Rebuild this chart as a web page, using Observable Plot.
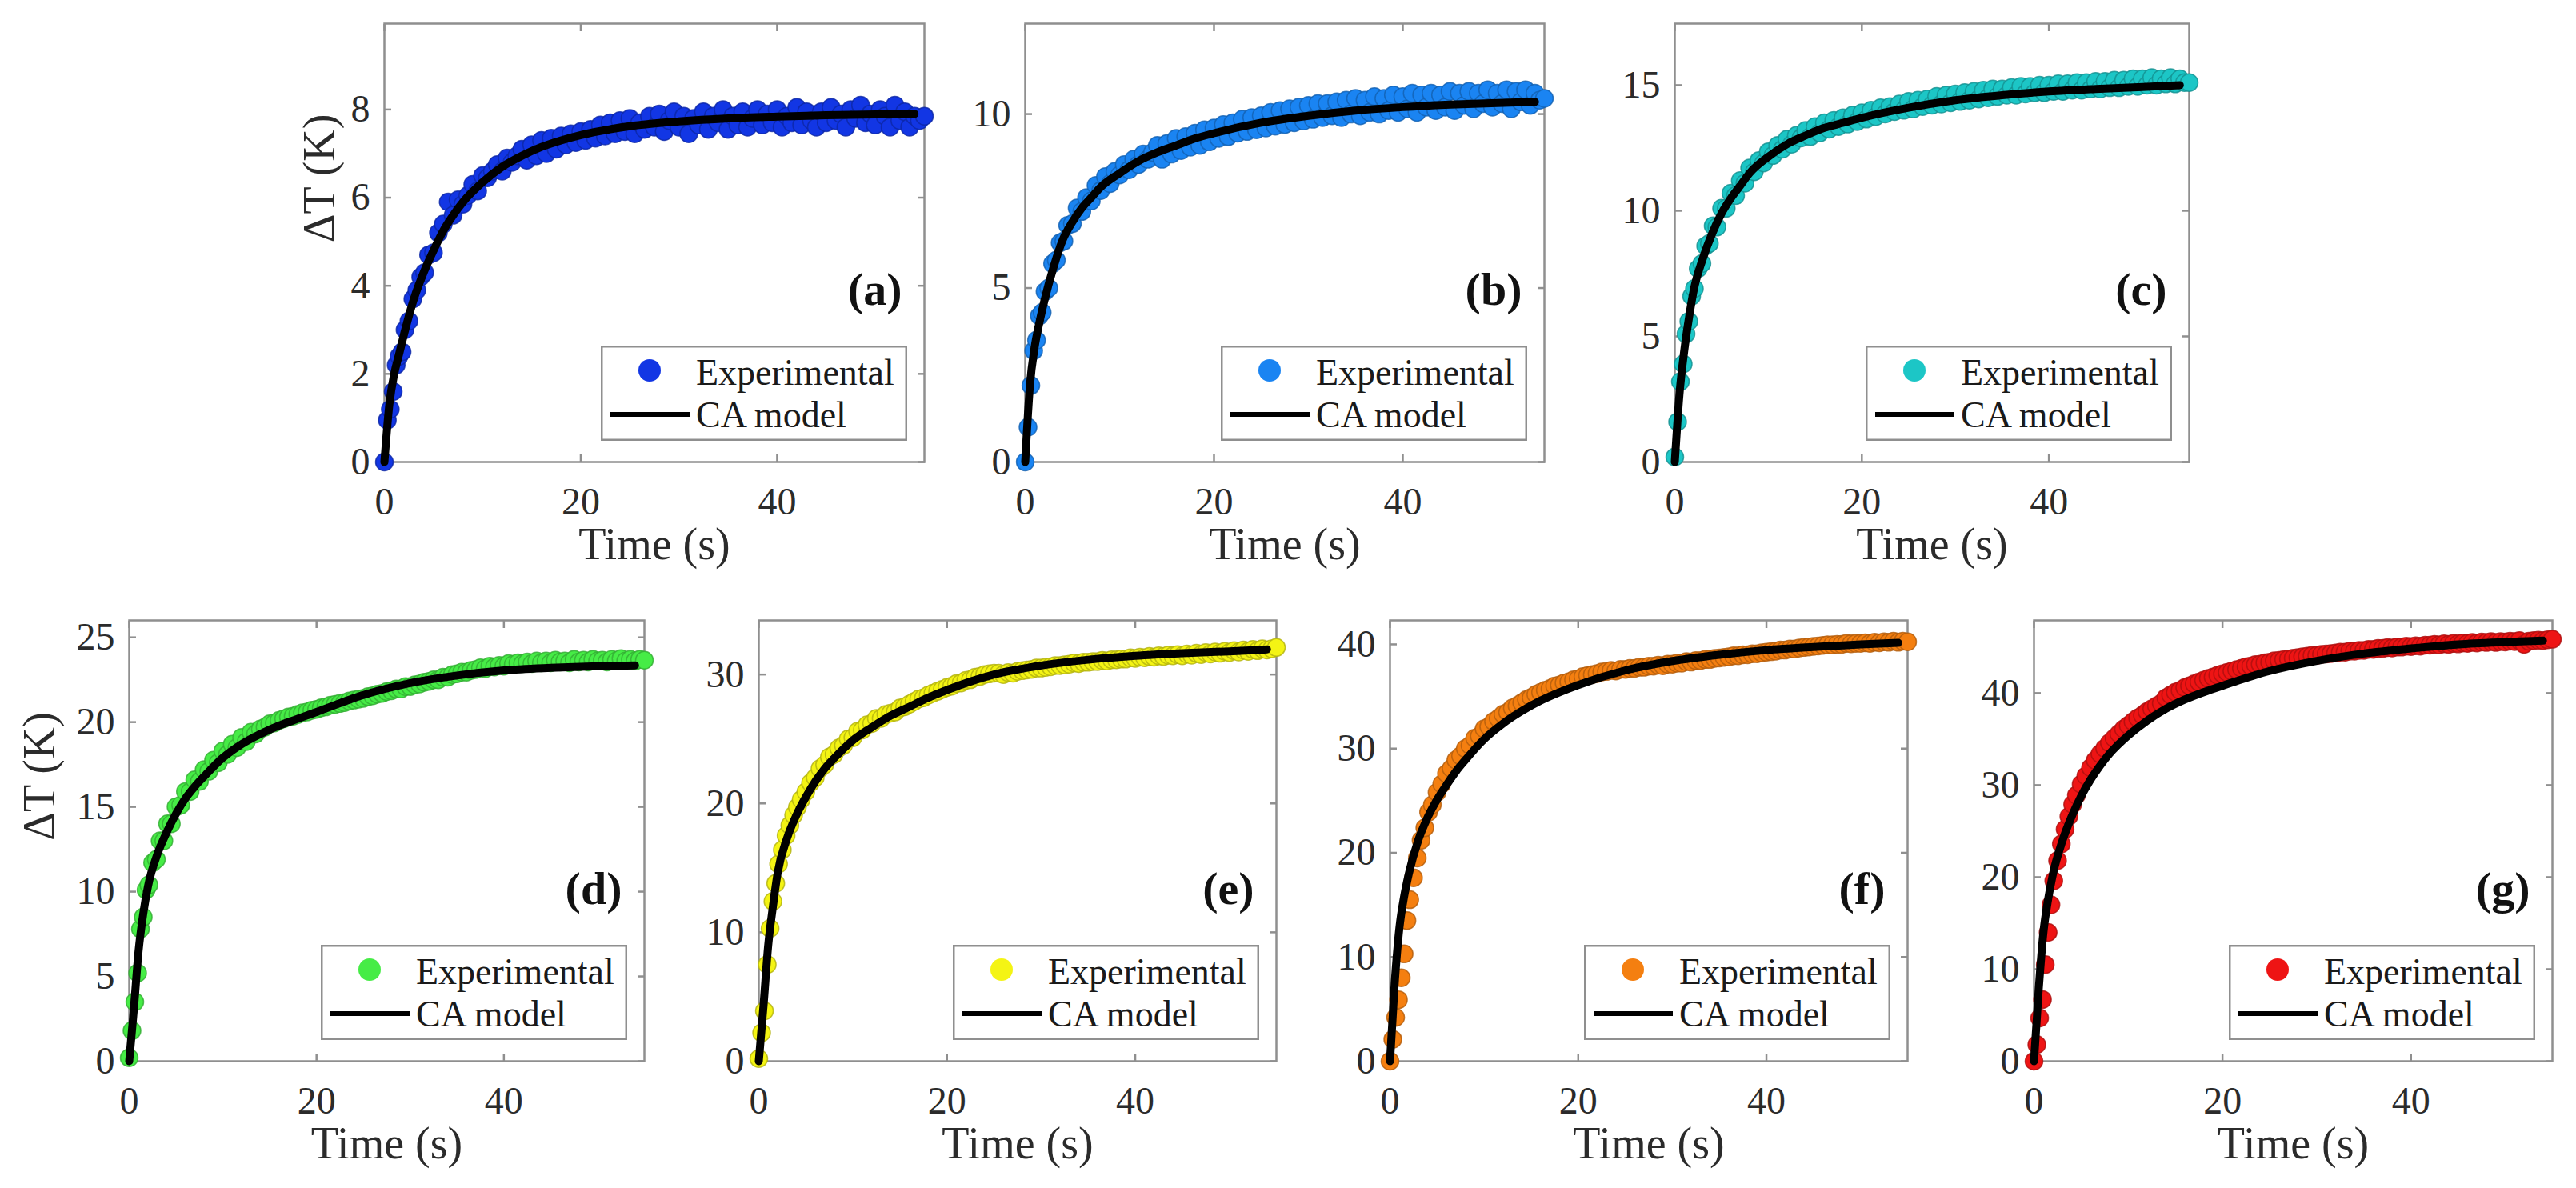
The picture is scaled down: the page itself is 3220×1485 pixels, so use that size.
<!DOCTYPE html>
<html>
<head>
<meta charset="utf-8">
<script src="https://cdn.jsdelivr.net/npm/d3@7"></script>
<script src="https://cdn.jsdelivr.net/npm/@observablehq/plot@0.6"></script>
<style>
  body { margin: 0; background: #fff; }
  #fig { position: relative; width: 3220px; height: 1485px; font-family: "Liberation Serif", "Times New Roman", serif; }
  #fig .panel, #fig .legend { position: absolute; }
</style>
</head>
<body>
<div id="fig"></div>
<script>
// sampling times of the experimental curves (s)
const time = [0, 0.3, 0.6, 0.9, 1.2, 1.5, 1.8, 2.1, 2.5, 2.9, 3.3, 3.7, 4.1, 4.5,
  5, 5.5, 6, 6.5, 7, 7.5, 8, 8.5, 9, 9.5, 10, 10.5, 11, 11.5, 12, 12.5, 13, 13.5,
  14, 14.5, 15, 15.5, 16, 16.5, 17, 17.5, 18, 18.5,
  19, 19.5, 20, 20.5, 21, 21.5, 22, 22.5, 23, 23.5,
  24, 24.5, 25, 25.5, 26, 26.5, 27, 27.5, 28, 28.5,
  29, 29.5, 30, 30.5, 31, 31.5, 32, 32.5, 33, 33.5,
  34, 34.5, 35, 35.5, 36, 36.5, 37, 37.5, 38, 38.5,
  39, 39.5, 40, 40.5, 41, 41.5, 42, 42.5, 43, 43.5,
  44, 44.5, 45, 45.5, 46, 46.5, 47, 47.5, 48, 48.5,
  49, 49.5, 50, 50.5, 51, 51.5, 52, 52.5, 53, 53.5,
  54, 54.5, 55];

// experimental ΔT (K), one value per time above
const expA = [0, 0.95, 1.2, 1.6, 2.2, 2.4, 2.5, 3.0, 3.2, 3.7, 3.9, 4.2, 4.3, 4.7,
  4.75, 5.2, 5.4, 5.9, 5.6, 5.95, 5.85, 6.05, 6.3, 6.15, 6.5, 6.45, 6.6, 6.75, 6.6, 6.9, 6.8, 6.95,
  7.1, 6.85, 7.2, 6.95, 7.3, 7.0, 7.35, 7.1, 7.4, 7.2,
  7.45, 7.25, 7.5, 7.3, 7.55, 7.35, 7.65, 7.4, 7.7, 7.45,
  7.75, 7.5, 7.8, 7.45, 7.7, 7.55, 7.85, 7.6, 7.9, 7.5,
  7.75, 7.95, 7.6, 7.85, 7.45, 7.8, 7.65, 7.95, 7.55, 7.85,
  7.7, 8.0, 7.55, 7.85, 7.65, 7.95, 7.6, 7.8, 8.0, 7.65,
  7.9, 7.7, 8.0, 7.6, 7.85, 7.7, 8.05, 7.65, 7.95, 7.75,
  7.6, 7.95, 7.7, 8.05, 7.75, 7.9, 7.6, 8.0, 7.8, 8.1,
  7.7, 7.9, 7.65, 8.0, 7.85, 7.6, 8.1, 7.75, 7.95, 7.6,
  7.85, 7.75, 7.85];
const expB = [0, 1.0, 2.2, 3.2, 3.5, 4.2, 4.3, 4.9, 5.0, 5.7, 5.8, 6.3, 6.35, 6.8,
  6.85, 7.3, 7.2, 7.6, 7.5, 7.95, 7.8, 8.2, 8.0, 8.35, 8.25, 8.55, 8.4, 8.7, 8.55, 8.85, 8.7, 8.9,
  9.1, 8.7, 9.15, 8.85, 9.3, 8.95, 9.35, 9.05, 9.45, 9.1,
  9.55, 9.2, 9.6, 9.3, 9.7, 9.35, 9.75, 9.45, 9.85, 9.5,
  9.9, 9.55, 9.95, 9.6, 10.05, 9.65, 10.1, 9.7, 10.15, 9.75,
  10.2, 9.8, 10.25, 9.85, 10.3, 9.9, 10.3, 9.95, 10.35, 9.9,
  10.4, 10.0, 10.45, 9.95, 10.4, 10.05, 10.5, 10.0, 10.45, 10.1,
  10.55, 10.05, 10.5, 10.15, 10.6, 10.05, 10.55, 10.2, 10.6, 10.1,
  10.55, 10.2, 10.65, 10.1, 10.6, 10.25, 10.65, 10.15, 10.6, 10.3,
  10.7, 10.2, 10.6, 10.3, 10.7, 10.15, 10.65, 10.35, 10.7, 10.25,
  10.6, 10.4, 10.45];
const expC = [0.2, 1.6, 3.2, 3.9, 5.1, 5.6, 6.6, 6.9, 7.7, 7.9, 8.6, 8.7, 9.4, 9.35,
  10.1, 10.1, 10.7, 10.6, 11.2, 11.1, 11.7, 11.55, 12.0, 11.9, 12.35, 12.2, 12.6, 12.45, 12.85, 12.65, 13.0, 12.9,
  13.2, 12.95, 13.35, 13.1, 13.5, 13.25, 13.6, 13.35, 13.7, 13.45,
  13.8, 13.55, 13.9, 13.65, 14.0, 13.75, 14.1, 13.85, 14.15, 13.95,
  14.25, 14.0, 14.35, 14.05, 14.4, 14.15, 14.45, 14.2, 14.55, 14.25,
  14.6, 14.3, 14.65, 14.35, 14.7, 14.4, 14.75, 14.45, 14.8, 14.5,
  14.85, 14.55, 14.85, 14.6, 14.9, 14.6, 14.95, 14.65, 14.95, 14.7,
  15.0, 14.7, 15.0, 14.75, 15.05, 14.75, 15.05, 14.8, 15.1, 14.8,
  15.1, 14.85, 15.15, 14.85, 15.15, 14.9, 15.2, 14.9, 15.2, 14.95,
  15.25, 14.95, 15.25, 15.0, 15.3, 15.0, 15.25, 15.05, 15.3, 15.05,
  15.25, 15.1, 15.1];
const expD = [0.2, 1.8, 3.5, 5.2, 7.8, 8.5, 10.1, 10.4, 11.7, 11.9, 13.0, 13.0, 14.0, 14.0,
  15.0, 15.1, 15.9, 15.9, 16.6, 16.5, 17.2, 17.1, 17.75, 17.6, 18.3, 18.1, 18.7, 18.5, 19.1, 18.85, 19.4, 19.3,
  19.6, 19.7, 19.9, 19.95, 20.1, 20.2, 20.3, 20.35, 20.45, 20.55,
  20.6, 20.7, 20.75, 20.85, 20.9, 21.0, 21.05, 21.1, 21.15, 21.25,
  21.3, 21.35, 21.4, 21.5, 21.55, 21.65, 21.7, 21.8, 21.85, 21.95,
  21.95, 22.1, 22.1, 22.2, 22.25, 22.35, 22.4, 22.5, 22.5, 22.65,
  22.65, 22.8, 22.85, 22.95, 22.95, 23.05, 23.1, 23.2, 23.15, 23.3,
  23.25, 23.35, 23.3, 23.45, 23.4, 23.5, 23.45, 23.55, 23.45, 23.6,
  23.5, 23.6, 23.5, 23.65, 23.55, 23.6, 23.5, 23.7, 23.55, 23.65,
  23.55, 23.7, 23.6, 23.65, 23.55, 23.7, 23.6, 23.75, 23.6, 23.7,
  23.6, 23.7, 23.65];
const expE = [0.2, 2.2, 3.9, 7.5, 10.3, 12.4, 13.8, 15.3, 16.4, 17.5, 18.3, 19.1, 19.7, 20.3,
  20.9, 21.6, 22.0, 22.7, 23.0, 23.6, 23.8, 24.3, 24.5, 25.0, 25.1, 25.6, 25.7, 26.1, 26.2, 26.6, 26.6, 26.9,
  27.0, 27.1, 27.4, 27.5, 27.7, 27.9, 28.1, 28.2, 28.4, 28.55,
  28.7, 28.85, 29.0, 29.1, 29.3, 29.35, 29.55, 29.6, 29.8, 29.85,
  30.0, 30.05, 30.1, 30.1, 30.0, 30.15, 30.1, 30.25, 30.3, 30.35,
  30.4, 30.5, 30.5, 30.55, 30.6, 30.7, 30.7, 30.75, 30.8, 30.9,
  30.85, 30.95, 30.95, 31.0, 31.0, 31.1, 31.05, 31.15, 31.15, 31.2,
  31.2, 31.3, 31.25, 31.35, 31.3, 31.4, 31.35, 31.45, 31.4, 31.5,
  31.45, 31.55, 31.45, 31.6, 31.5, 31.65, 31.55, 31.7, 31.6, 31.75,
  31.65, 31.8, 31.7, 31.85, 31.75, 31.9, 31.8, 31.95, 31.85, 32.0,
  31.9, 32.0, 32.1];
const expF = [0, 2.1, 4.2, 5.9, 8.0, 10.3, 13.5, 15.5, 17.6, 19.5, 21.2, 22.4, 23.9, 24.6,
  25.8, 26.6, 27.6, 28.1, 28.9, 29.3, 30.0, 30.3, 31.0, 31.2, 31.9, 32.1, 32.6, 32.9, 33.3, 33.5, 33.9, 34.1,
  34.4, 34.7, 34.9, 35.2, 35.4, 35.6, 35.75, 36.0, 36.1, 36.3,
  36.4, 36.6, 36.7, 36.9, 37.0, 37.1, 37.2, 37.35, 37.4, 37.5,
  37.45, 37.6, 37.6, 37.7, 37.7, 37.8, 37.8, 37.9, 37.9, 38.0,
  37.95, 38.1, 38.1, 38.2, 38.2, 38.35, 38.3, 38.45, 38.45, 38.55,
  38.55, 38.65, 38.7, 38.75, 38.8, 38.9, 38.9, 39.0, 39.0, 39.1,
  39.1, 39.2, 39.25, 39.3, 39.35, 39.45, 39.45, 39.55, 39.55, 39.65,
  39.7, 39.75, 39.8, 39.85, 39.9, 39.95, 39.95, 40.0, 40.0, 40.1,
  40.05, 40.1, 40.1, 40.15, 40.1, 40.2, 40.15, 40.25, 40.2, 40.3,
  40.2, 40.3, 40.25];
const expG = [0, 1.8, 4.7, 6.7, 10.5, 14.0, 17.0, 19.6, 21.8, 23.6, 25.2, 26.6, 27.9, 28.9,
  30.1, 31.0, 31.9, 32.7, 33.4, 34.0, 34.6, 35.1, 35.6, 36.1, 36.5, 36.9, 37.3, 37.6, 38.0, 38.3, 38.6, 38.9,
  39.5, 39.8, 40.1, 40.3, 40.6, 40.8, 41.0, 41.2, 41.4, 41.6,
  41.75, 41.95, 42.1, 42.25, 42.4, 42.55, 42.7, 42.85, 42.95, 43.1,
  43.15, 43.3, 43.35, 43.5, 43.55, 43.65, 43.7, 43.8, 43.85, 43.95,
  44.0, 44.1, 44.1, 44.2, 44.25, 44.3, 44.35, 44.45, 44.45, 44.55,
  44.55, 44.65, 44.65, 44.75, 44.75, 44.85, 44.85, 44.95, 44.9, 45.0,
  45.0, 45.1, 45.05, 45.15, 45.1, 45.2, 45.2, 45.3, 45.25, 45.35,
  45.3, 45.4, 45.35, 45.45, 45.4, 45.5, 45.45, 45.55, 45.5, 45.6,
  45.5, 45.6, 45.55, 45.65, 45.6, 45.7, 45.3, 45.65, 45.7, 45.75,
  45.7, 45.8, 45.85];

// CA model curves
const modelTime = [0, 0.5, 1, 1.5, 2, 3, 4, 5, 6, 7, 8, 10, 12, 14, 16, 18, 20, 25, 30, 35, 40, 45, 50, 54];
const modelA = [0, 1.3, 2.0, 2.45, 2.9, 3.7, 4.3, 4.8, 5.25, 5.6, 5.9, 6.35, 6.7, 6.95, 7.15, 7.3, 7.42, 7.62, 7.73, 7.8, 7.84, 7.87, 7.89, 7.9];
const modelB = [0, 2.2, 3.3, 4.0, 4.6, 5.6, 6.4, 6.9, 7.3, 7.6, 7.9, 8.3, 8.65, 8.9, 9.1, 9.3, 9.45, 9.75, 9.95, 10.1, 10.2, 10.27, 10.32, 10.35];
const modelC = [0, 2.7, 4.4, 5.7, 6.8, 8.1, 9.1, 9.9, 10.5, 11.0, 11.5, 12.15, 12.65, 13.0, 13.3, 13.5, 13.7, 14.1, 14.4, 14.6, 14.75, 14.85, 14.93, 15.0];
const modelD = [0, 3.1, 6.5, 8.7, 10.3, 12.2, 13.5, 14.6, 15.5, 16.2, 16.8, 17.9, 18.7, 19.3, 19.8, 20.2, 20.6, 21.6, 22.3, 22.75, 23.05, 23.2, 23.3, 23.35];
const modelE = [0, 4.3, 9.0, 12.0, 14.6, 17.3, 19.1, 20.5, 21.7, 22.7, 23.5, 24.9, 25.9, 26.8, 27.5, 28.2, 28.8, 30.0, 30.7, 31.15, 31.45, 31.65, 31.8, 31.95];
const modelF = [0, 7.5, 12.8, 15.8, 18.0, 21.2, 23.4, 25.1, 26.5, 27.8, 28.9, 30.9, 32.4, 33.6, 34.6, 35.4, 36.1, 37.5, 38.4, 39.0, 39.45, 39.75, 40.0, 40.15];
const modelG = [0, 7.8, 14.0, 17.6, 20.3, 23.9, 26.6, 28.8, 30.6, 32.1, 33.4, 35.4, 37.0, 38.3, 39.3, 40.1, 40.8, 42.4, 43.5, 44.3, 44.85, 45.3, 45.55, 45.7];

const xTicks = [0, 20, 40];

const panels = [
  {key: "(a)", color: "#1236e4", exp: expA, model: modelA, ymax: 9.95, yticks: [0, 2, 4, 6, 8], left: 480, top: 29, w: 675, h: 548, ylab: 100},
  {key: "(b)", color: "#1a84f2", exp: expB, model: modelB, ymax: 12.6, yticks: [0, 5, 10], left: 1281, top: 29, w: 649, h: 548},
  {key: "(c)", color: "#1cc6c6", exp: expC, model: modelC, ymax: 17.45, yticks: [0, 5, 10, 15], left: 2093, top: 29, w: 643, h: 548},
  {key: "(d)", color: "#46ec46", exp: expD, model: modelD, ymax: 26, yticks: [0, 5, 10, 15, 20, 25], left: 161, top: 775, w: 644, h: 551, ylab: 131},
  {key: "(e)", color: "#f4f414", exp: expE, model: modelE, ymax: 34.2, yticks: [0, 10, 20, 30], left: 948, top: 775, w: 647, h: 551},
  {key: "(f)", color: "#f47f10", exp: expF, model: modelF, ymax: 42.3, yticks: [0, 10, 20, 30, 40], left: 1737, top: 775, w: 647, h: 551},
  {key: "(g)", color: "#ee1414", exp: expG, model: modelG, ymax: 47.9, yticks: [0, 10, 20, 30, 40], left: 2542, top: 775, w: 648, h: 551}
];

const FONT = '"Liberation Serif", "Times New Roman", serif';
const AXIS = "#8f8f8f";
const INK = "#2b2b2b";
const ML = 160, MR = 40, MT = 20, MB = 160;

const fig = d3.select("#fig");

for (const p of panels) {
  const pts = time.map((t, i) => ({t, v: p.exp[i]}));
  const fit = modelTime.map((t, i) => ({t, v: p.model[i]}));
  const edge = d3.color(p.color).darker(0.9).formatHex();

  const marks = [
    Plot.frame({stroke: AXIS, strokeWidth: 2.5}),
    Plot.axisX(xTicks, {anchor: "bottom", tickSize: -9, tickPadding: 40, tickFormat: d => String(d), stroke: AXIS, strokeWidth: 2.5, fill: INK, label: null}),
    Plot.axisX(xTicks, {anchor: "top", tickSize: -9, tickFormat: () => "", stroke: AXIS, strokeWidth: 2.5, label: null}),
    Plot.axisY(p.yticks, {anchor: "left", tickSize: -9, tickPadding: 27, tickFormat: d => String(d), stroke: AXIS, strokeWidth: 2.5, fill: INK, label: null}),
    Plot.axisY(p.yticks, {anchor: "right", tickSize: -9, tickFormat: () => "", stroke: AXIS, strokeWidth: 2.5, label: null}),
    Plot.dot(pts, {x: "t", y: "v", r: 11, fill: p.color, stroke: edge, strokeWidth: 1.5, strokeOpacity: 0.8}),
    Plot.line(fit, {x: "t", y: "v", stroke: "#000", strokeWidth: 10, curve: "monotone-x"}),
    Plot.text([p.key], {frameAnchor: "bottom-right", dx: -28, dy: -197, text: d => d, fontSize: 58, fontWeight: "bold", textAnchor: "end", fill: "#111"}),
    Plot.text(["Time (s)"], {frameAnchor: "bottom", dy: 121, text: d => d, fontSize: 56, fill: INK})
  ];
  if (p.ylab) {
    marks.push(Plot.text(["\u0394T (K)"], {frameAnchor: "left", dx: -p.ylab + 20, rotate: -90, text: d => d, fontSize: 56, fill: INK}));
  }

  const chart = Plot.plot({
    width: p.w + ML + MR,
    height: p.h + MT + MB,
    marginLeft: ML, marginRight: MR, marginTop: MT, marginBottom: MB,
    x: {domain: [0, 55]},
    y: {domain: [0, p.ymax]},
    style: {fontFamily: FONT, fontSize: "48px", color: INK, background: "transparent"},
    marks
  });

  fig.append(() => chart)
    .attr("class", "panel")
    .style("left", (p.left - ML) + "px")
    .style("top", (p.top - MT) + "px");

  // legend box, inside the lower right corner of the axes
  const lw = 383, lh = 119;
  const lg = fig.append("svg")
    .attr("class", "legend")
    .attr("width", lw).attr("height", lh)
    .style("left", (p.left + p.w - 21 - lw) + "px")
    .style("top", (p.top + p.h - 26 - lh) + "px")
    .style("font-family", FONT);
  lg.append("rect").attr("x", 1.25).attr("y", 1.25).attr("width", lw - 2.5).attr("height", lh - 2.5)
    .attr("fill", "#fff").attr("stroke", AXIS).attr("stroke-width", 2.5);
  lg.append("circle").attr("cx", 61).attr("cy", 31).attr("r", 14).attr("fill", p.color);
  lg.append("line").attr("x1", 12).attr("x2", 111).attr("y1", 86).attr("y2", 86)
    .attr("stroke", "#000").attr("stroke-width", 6);
  lg.append("text").attr("x", 119).attr("y", 49).attr("font-size", 46).attr("fill", "#1a1a1a").text("Experimental");
  lg.append("text").attr("x", 119).attr("y", 102).attr("font-size", 46).attr("fill", "#1a1a1a").text("CA model");
}
</script>
</body>
</html>
